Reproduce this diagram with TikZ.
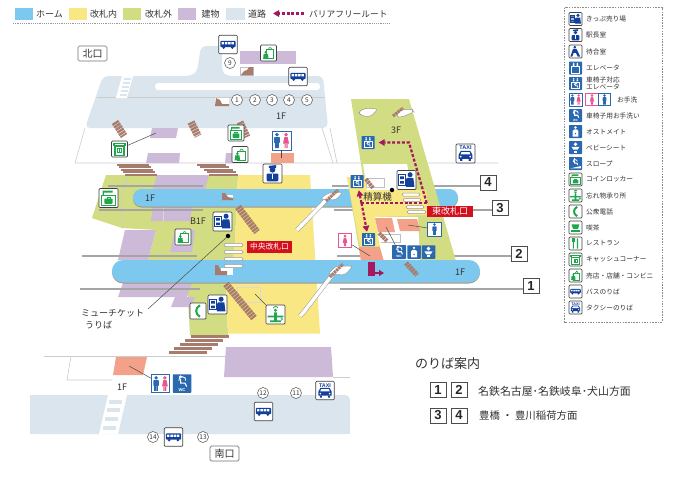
\documentclass[tikz,border=0pt]{standalone}
\usepackage{fontspec}
\setmainfont{Noto Sans CJK JP}
\newfontfamily\latinb{Liberation Sans}[BoldFont={Liberation Sans Bold}]
\usetikzlibrary{arrows.meta}
\definecolor{cHome}{HTML}{7CC8EE}
\definecolor{cIn}{HTML}{F9E784}
\definecolor{cOut}{HTML}{D2DC82}
\definecolor{cBld}{HTML}{CDB9D8}
\definecolor{cRoad}{HTML}{DAE5ED}
\definecolor{cRoute}{HTML}{A3195B}
\definecolor{cSalmon}{HTML}{F4A18A}
\definecolor{cStair}{HTML}{A87C6C}
\definecolor{cNavy}{HTML}{12409A}
\definecolor{cBlue}{HTML}{2A68B0}
\definecolor{cGrn}{HTML}{1FA84A}
\definecolor{cPink}{HTML}{E8558F}
\definecolor{cRed}{HTML}{D4101E}
\definecolor{cTxt}{HTML}{333333}
\definecolor{cRail}{HTML}{A5A5A5}
\definecolor{cThin}{HTML}{C8CDD0}
\tikzset{
 x=1pt,y=-1pt,
 wbox/.style={draw=black!75,fill=white,line width=.7pt,rounded corners=1pt,inner sep=0pt},
 bbox/.style={draw=none,fill=cBlue,rounded corners=.6pt,inner sep=0pt},
 wcbox/.style={draw=cBlue,fill=white,line width=.8pt,inner sep=0pt},
 pkbox/.style={draw=cPink,fill=white,line width=.8pt,inner sep=0pt},
 road/.style={fill=cRoad},
 bld/.style={fill=cBld},
 room/.style={fill=cSalmon},
 thin/.style={draw=cThin,line width=.6pt},
 lead/.style={draw=black!70,line width=.5pt},
 rail/.style={draw=cRail,line width=2pt},
 hatch/.style={draw=cStair,dash pattern=on 2.3pt off .7pt},
 stbar/.style={fill=cStair},
 esc/.style={draw=black!40,line width=.5pt,double=white,double distance=3.5pt},
 bar/.style={draw=black!40,fill=white,line width=.5pt,rounded corners=1.5pt},
 numbox/.style={draw=black!70,fill=white,line width=.7pt,inner sep=0pt,minimum width=16pt,minimum height=15pt,font=\latinb\fontsize{13}{13}\selectfont\bfseries,text=black!85},
 gatebox/.style={fill=cRed,text=white,inner sep=0pt,align=center},
 exitbox/.style={draw=black!55,fill=white,line width=.7pt,rounded corners=1.5pt,inner sep=0pt,minimum width=29pt,minimum height=15pt,font=\fontsize{10}{10}\selectfont,text=cTxt},
 cnum/.style={draw=black!70,fill=white,circle,line width=.5pt,inner sep=0pt,minimum size=11pt,font=\fontsize{6.5}{6.5}\selectfont,text=cTxt},
 lab/.style={text=cTxt,inner sep=0pt,font=\fontsize{9}{9}\selectfont},
 leg/.style={text=cTxt,inner sep=0pt,anchor=west,align=left,font=\fontsize{6.7}{7.6}\selectfont},
 rt/.style={draw=cRoute,line width=2.2pt,dash pattern=on 3pt off 1.8pt},
 rtarrow/.style={rt,-{Triangle[length=6pt,width=6.5pt]}},
 rtsolid/.style={draw=cRoute,line width=1.6pt,-{Triangle[length=5pt,width=6pt]}},
}
\newcommand{\ico}[6]{% name,x,y,size,style,glyph
 \node[#5,minimum size=#4pt] (#1) at (#2,#3) {};
 \pgfmathsetmacro{\icos}{#4/18}
 \begin{scope}[shift={(#2,#3)},scale=\icos,transform shape]#6\end{scope}}
\newcommand{\gBus}{\fill[cNavy,rounded corners=1pt] (-7.5,-3.5) rectangle (7.5,2.5);
 \fill[white] (-6.3,-2.3) rectangle (-3.9,-.2) (-3.1,-2.3) rectangle (-.7,-.2) (.1,-2.3) rectangle (2.5,-.2) (3.3,-2.3) rectangle (5.7,-.2);
 \fill[cNavy] (-4.2,3) circle (1.4) (4.2,3) circle (1.4);}
\newcommand{\gTaxi}{\node[text=cNavy,inner sep=0pt,font=\latinb\fontsize{5.2}{5.2}\selectfont\bfseries] at (0,-5.2) {TAXI};
 \fill[cNavy] (-6.5,5) -- (-6.5,1.2) -- (-4.5,-2.5) -- (4.5,-2.5) -- (6.5,1.2) -- (6.5,5) -- cycle;
 \fill[white] (-3.8,-1.4) -- (3.8,-1.4) -- (4.6,.8) -- (-4.6,.8) -- cycle;
 \fill[white] (-4.5,3) circle (.9) (4.5,3) circle (.9);
 \fill[cNavy] (-5,5) rectangle (-3,7) (3,5) rectangle (5,7);}
\newcommand{\gShop}{\draw[cGrn,line width=.8pt] (-2.5,-3.5) rectangle (6,6.5);
 \draw[cGrn,line width=.7pt] (-.2,-3.5) .. controls (0,-7) and (3.5,-7) .. (3.7,-3.5);
 \fill[cGrn] (-3,-.8) circle (1.6);
 \fill[cGrn] (-6,6.5) -- (-5.5,1) -- (-.5,1) -- (0,6.5) -- cycle;}
\newcommand{\gLocker}{\fill[cGrn] (-5.5,-7) rectangle (-4.3,-2) (-4.3,-7) rectangle (4,-5);
 \draw[cGrn,line width=1pt] (-6.5,-2.5) rectangle (6.5,7);
 \fill[cGrn,rounded corners=.7pt] (-3.8,.5) rectangle (3.8,5.5);
 \draw[cGrn,line width=.7pt] (-1.5,.5) -- (-1.5,-.8) -- (1.5,-.8) -- (1.5,.5);}
\newcommand{\gATM}{\fill[cGrn] (-7.5,-6.5) rectangle (7.5,-3);
 \fill[white] (-5,-5.3) rectangle (5,-4.4);
 \draw[cGrn,line width=1.2pt] (-5,-3) rectangle (5,7);
 \draw[cGrn,line width=.9pt] (-2,-.5) rectangle (2,4);
 \fill[cGrn] (-.6,-.5) rectangle (.6,4);}
\newcommand{\gPhone}{\draw[cGrn,line width=2pt] (2.2,-6.5) .. controls (-3.5,-3) and (-3.5,3) .. (2.2,6.5);}
\newcommand{\gLost}{\fill[cGrn] (-1.3,-2) rectangle (1.3,6) (-7.5,1) rectangle (7.5,2.6) (-5,5.5) rectangle (5,7.3);
 \fill[cGrn] (0,-4) circle (1.6);
 \draw[cGrn,line width=.8pt] (-2,-6) .. controls (-2,-8) and (2.5,-8) .. (2.2,-6);
 \draw[cGrn,line width=.8pt] (5,3) .. controls (7,3.5) and (7,5.5) .. (5.5,5.5);}
\newcommand{\gTicket}{\draw[cNavy,line width=.9pt] (-7.2,-5) rectangle (-1.2,5);
 \fill[cNavy] (-6,-3.5) rectangle (-2.4,-.8) (-6,1) rectangle (-2.4,3.5);
 \fill[cNavy] (3.4,-5) circle (2.4);
 \fill[cNavy] (.5,-2) -- (6.5,-2) -- (7.5,6.5) -- (-.5,6.5) -- (-.5,2.5) -- (-1,0.5) -- cycle;}
\newcommand{\gMaster}{\fill[cNavy] (-3.5,-7.2) -- (3.5,-8) -- (3.5,-5.2) -- (-3.5,-5.2) -- cycle;
 \fill[cNavy] (0,-3.5) circle (2.7);
 \fill[cNavy,rounded corners=1pt] (-5.5,7.5) -- (-5.5,0) -- (5.5,0) -- (5.5,7.5) -- cycle;
 \fill[white] (-.4,.5) -- (.4,.5) -- (.4,5) -- (-.4,5) -- cycle;}
\newcommand{\gWait}{\fill[cNavy] (-1,-6) circle (2);
 \fill[cNavy] (-3.5,-3.5) -- (1.5,-3.5) -- (6.5,7) -- (3,7) -- (.5,2) -- (-2.5,2) -- (-4.5,7) -- (-7,7) -- cycle;}
\newcommand{\gElev}{\fill[white] (-2.5,-6.5) circle (1.1) (2.5,-6.5) circle (1.1);
 \fill[white] (-3.6,-5.2) rectangle (-1.4,-2.6) (1.4,-5.2) rectangle (3.6,-2.6);
 \draw[white,line width=.9pt] (-5,-1.5) rectangle (5,7);}
\newcommand{\gElevW}{\fill[white] (-2.5,-6.5) circle (1.1) (2.5,-6.5) circle (1.1);
 \fill[white] (-3.6,-5.2) rectangle (-1.4,-2.8) (1.4,-5.2) rectangle (3.6,-2.8);
 \draw[white,line width=.9pt] (-5.5,-1.8) rectangle (5.5,7.3);
 \fill[white] (-.4,-.5) circle (.9);
 \draw[white,line width=.8pt] (-.4,.5) -- (-.2,3) -- (2.3,3) -- (3,5.5);
 \draw[white,line width=.7pt] (-1.6,1.8) arc[start angle=160,end angle=370,radius=2];}
\newcommand{\gMan}[1]{\fill[#1] (0,-5.8) circle (1.9);
 \fill[#1,rounded corners=.6pt] (-2.8,-3.4) rectangle (2.8,2.5);
 \fill[#1] (-1.9,2) rectangle (-.2,7.5) (.2,2) rectangle (1.9,7.5);}
\newcommand{\gWoman}[1]{\fill[#1] (0,-5.8) circle (1.9);
 \fill[#1] (-1.6,-3.4) -- (1.6,-3.4) -- (3,3) -- (-3,3) -- cycle;
 \fill[#1] (-1.5,3) rectangle (-.3,7.5) (.3,3) rectangle (1.5,7.5);}
\newcommand{\gWC}{\begin{scope}[shift={(-4.3,0)},scale=.95]\gMan{cBlue}\end{scope}
 \begin{scope}[shift={(4.3,0)},scale=.95]\gWoman{cPink}\end{scope}}
\newcommand{\gWheel}{\fill[white] (-1.5,-6.5) circle (1.5);
 \draw[white,line width=1.1pt] (-1.5,-4.5) -- (-1.2,-.3) -- (3,-.3) -- (4.5,3);
 \draw[white,line width=.9pt] (-3,-2.8) arc[start angle=170,end angle=370,radius=3.4];
 \node[text=white,inner sep=0pt,font=\latinb\fontsize{4}{4}\selectfont\bfseries] at (0,6.3) {WC};}
\newcommand{\gOsto}{\fill[white] (0,-5.5) circle (1.8);
 \fill[white] (-4,7) -- (-4,-1) -- (-1.5,-3) -- (1.5,-3) -- (4,-1) -- (4,7) -- cycle;
 \fill[cBlue] (0,3) circle (1);}
\newcommand{\gBaby}{\fill[white] (0,-4.5) circle (2.6);
 \fill[white] (-5.5,-1) -- (5.5,-1) -- (3,3) -- (-3,3) -- cycle;
 \fill[white] (-2.5,4.5) rectangle (2.5,7);}
\newcommand{\gSlope}{\fill[white] (-1.5,-6) circle (1.5);
 \draw[white,line width=1pt] (-1.5,-4) -- (-1.3,-.5) -- (2,-.5) -- (3,2);
 \draw[white,line width=.8pt] (-3,-2) arc[start angle=170,end angle=350,radius=2.8];
 \fill[white] (-7.5,6.8) -- (7.5,6.8) -- (7.5,3.5) -- cycle;}
\newcommand{\gCafe}{\fill[cGrn] (-5.5,-4.5) -- (5.5,-4.5) -- (3.5,2) -- (-3.5,2) -- cycle;
 \fill[cGrn] (-6.5,4) rectangle (6.5,5.8);}
\newcommand{\gRest}{\fill[cGrn] (-3.5,-7) rectangle (-2.2,7) (1.8,-7) rectangle (3.6,7);
 \fill[cGrn] (-5,-7) rectangle (-.7,-1.5);}
\begin{document}
\begin{tikzpicture}
\useasboundingbox (0,0) rectangle (675,488);
\fill[white] (0,0) rectangle (675,488);

% ---------- legend strip
\foreach \xa/\xb/\cc in {15/33/cHome,69/87/cIn,123/141/cOut,178/196/cBld,226/245/cRoad}
  \fill[\cc] (\xa,8) rectangle (\xb,19.5);
\node[lab,anchor=west] (lgHome) at (36,14) {ホーム};
\node[lab,anchor=west] (lgIn) at (90,14) {改札内};
\node[lab,anchor=west] (lgOut) at (145,14) {改札外};
\node[lab,anchor=west] (lgBld) at (201.5,14) {建物};
\node[lab,anchor=west] (lgRoad) at (248,14) {道路};
\coordinate (lgR1) at (304,13.5);
\coordinate (lgR2) at (273,13.5);
\draw[rtarrow] (lgR1) -- (lgR2);
\node[lab,anchor=west,font=\fontsize{8.7}{8.7}\selectfont] (lgRoute) at (309,14) {バリアフリールート};
\draw[black!40,line width=.5pt,dash pattern=on 1.2pt off 1pt] (13,23.5) -- (390,23.5);

% ---------- north road
\fill[road,rounded corners=5pt] (201,46) -- (197,72) -- (190,76) -- (103,76) -- (85,128) -- (328,128) -- (323,76) -- (227,76) -- (222,72) -- (222,46) -- cycle;
\fill[road] (205,46) rectangle (222,52);
\fill[white,rounded corners=3pt] (155,83) rectangle (320,90);
\draw[black!20,line width=.5pt] (97,97) -- (325,97);
\fill[white] (122,76) -- (133,76) -- (127,98) -- (116,98) -- cycle;
\foreach \yy/\dx in {78/0,82/1,86/2,90/3,94/4}
  \fill[cRoad] (123.5-\dx,\yy) rectangle (131-\dx,\yy+2);
\fill[bld] (240,51) rectangle (296,63.5);

% ---------- concourse outline (north)
\draw[thin] (85,128) -- (75,163) -- (498,163);
\draw[thin] (322,128) -- (333,163);
\draw[thin] (330,128) -- (337,163);
\fill[bld] (152,128) -- (178,128) -- (176,138) -- (150,138) -- cycle;
\fill[bld] (148,153) -- (180,153) -- (179,163) -- (146,163) -- cycle;
\fill[bld] (226,153) -- (241,153) -- (241,163) -- (225,163) -- cycle;
\fill[room] (271,153) rectangle (294,163);

% ---------- B1F
\fill[cOut] (106,175) -- (238,175) -- (235,242) -- (233,260) -- (226,283) -- (228,335) -- (190,335) -- (187,283) -- (148,260) -- (156,230) -- (122,228) -- (92,218) -- cycle;
\fill[cIn] (238,175) -- (310,175) -- (320,333.5) -- (228,333.5) -- (226,283) -- (233,260) -- (235,242) -- cycle;
\fill[bld] (157,175) -- (209,175) -- (205,189) -- (153,189) -- cycle;
\fill[bld] (153,207) -- (192,207) -- (190,221) -- (151,221) -- cycle;
\fill[bld] (125,230) -- (156,230) -- (148,260) -- (118,260) -- cycle;
\fill[bld] (123,283) -- (192,283) -- (187,297) -- (118,297) -- cycle;
\fill[bld] (175,297) -- (195,297) -- (190,307) -- (171,307) -- cycle;
\fill[bld] (175,230) -- (195,230) -- (192,252) -- (170,252) -- cycle;
\draw[thin,draw=black!20] (128,175) -- (121,201) -- (123,228);
\draw[thin,draw=black!15] (163,207) -- (163,221);
\draw[thin,draw=black!15] (237,287) rectangle (260,302);

% ---------- rails
\draw[rail] (108,186) -- (203,186);
\draw[rail] (332,186) -- (480,186);
\draw[rail] (99,210) -- (203,210);
\draw[rail] (334,210) -- (492,210);
\draw[rail] (82,256) -- (197,256);
\draw[rail] (337,256) -- (511,256);
\draw[rail] (80,289) -- (200,289);
\draw[rail] (340,289) -- (523,289);

% ---------- platform 1F upper
\fill[brown!60!black!60,rounded corners=8.5pt] (133,190) rectangle (458,207.5);
\fill[cHome,rounded corners=8.5pt] (133,189) rectangle (458,206.5);

% ---------- east block
\fill[cOut] (351,99) -- (409,99) -- (456,261) -- (361,261) -- (347,177) -- (363,177) -- cycle;
\fill[white] (363,164) -- (407,164) -- (412,190) -- (367,190) -- cycle;
\draw[black!25,line width=.5pt,fill=white] (366,178) rectangle (384,187);
\fill[cIn] (347,177) -- (365,177) -- (367,190) -- (426,190) -- (429,215) -- (375,217) -- (380,246) -- (360,246) -- cycle;
\fill[room] (359,247) -- (380,247) -- (384,261) -- (361,261) -- cycle;
\fill[white] (375,217) -- (418,217) -- (420,261) -- (384,261) -- (380,247) -- cycle;
\fill[room] (375,218) -- (392,218) -- (395,232) -- (378,232) -- cycle;
\fill[room] (397,219) -- (417,219) -- (420,231) -- (400,231) -- cycle;
\draw[black!25,line width=.5pt] (379,234) -- (400,234) -- (400,242) -- (381,242);
\draw[hatch,line width=4pt] (379,233) -- (387,241);
\draw[hatch,line width=4pt] (366,179) -- (373,188);
% 3F escalators
\draw[black!40,fill=white,line width=.5pt,rounded corners=3pt] (358,112) -- (366,108) -- (378,109) -- (371,116.5) -- (362,116) -- cycle;
\draw[black!40,fill=white,line width=.5pt,rounded corners=3pt] (396,117) -- (400,110) -- (412,109) -- (414,112) -- (402,117) -- cycle;
\draw[hatch,line width=3pt] (393,116) -- (403,108);

% ---------- platform 1F lower
\fill[brown!60!black!60,rounded corners=11pt] (112,261) rectangle (480,283.5);
\fill[cHome,rounded corners=11pt] (112,260) rectangle (480,282.5);

% ---------- stairs
\foreach \x/\y in {128/163.5,130/166,132/168.5,134/171,136/173.5}
  \fill[stbar] (\x-11,\y) rectangle (\x+21,\y+2);
\foreach \x/\y in {197/163.5,200/166,204/168.5,207/171,209/173.5}
  \fill[stbar] (\x,\y) rectangle (\x+29,\y+2);
\foreach \x/\y in {190.5/335,185/339,179.5/343,174/347,168.5/351}
  \fill[stbar] (\x,\y) rectangle (\x+38,\y+3.3);
\draw[hatch,line width=7.5pt] (115,122) -- (124,136);
\draw[hatch,line width=7.5pt] (191,122) -- (198,136);
\draw[hatch,line width=7pt] (240,122) -- (247,137);
\draw[hatch,line width=7pt] (238,207) -- (257,232);
\draw[hatch,line width=7pt] (226,284) -- (254,318);
\draw[hatch,line width=5pt] (406,263) -- (417,275);
\draw[black!25,fill=white,line width=.4pt] (240,67) rectangle (253,75);
\fill[stbar] (241,75) -- (253,75) -- (253,67) -- (249,67) -- (247,70) -- (244,71) -- cycle;
\fill[white] (215,98) rectangle (229,106);
\fill[stbar] (215,106) -- (229,106) -- (229,104) -- (222,104) -- (220,100) -- (216,98) -- cycle;
\fill[white] (226,195) rectangle (233,200);
\fill[stbar] (222,193) -- (225,193) -- (228,197) -- (233,198) -- (233,200) -- (222,200) -- cycle;
\fill[white] (221,268) rectangle (233,275);
\fill[stbar] (215,265) -- (218,265) -- (221,271) -- (227,271) -- (227,275) -- (215,275) -- cycle;

% ---------- escalators
\draw[esc] (297,230) -- (300,227) -- (329,197);
\draw[esc] (300,316) -- (303,313) -- (333,274);
\draw[black!40,fill=white,line width=.5pt,rounded corners=3pt] (320,199) -- (328,193) -- (343,192) -- (336,200) -- cycle;
\draw[black!40,fill=white,line width=.5pt,rounded corners=3pt] (328,274) -- (336,266) -- (353,266) -- (345,275) -- cycle;
\draw[hatch,line width=3pt] (326,201) -- (338,190);
\draw[hatch,line width=3pt] (330,277) -- (343,264);

% ---------- gates
\foreach \yy in {245,252,259,266}
  \draw[bar] (224,\yy-1.7) rectangle (243,\yy+1.7);
\draw[bar] (402,193) rectangle (420,196);
\draw[bar] (403,198.5) rectangle (421,201.5);
\draw[bar] (406,205.5) rectangle (424,208.5);
\draw[bar] (407,210.5) rectangle (426,213.5);

% ---------- south
\draw[thin] (44,356.5) -- (226,356.5);
\draw[thin] (71,356.5) -- (67,380) -- (112,380);
\fill[bld] (226,347) -- (331,347) -- (333,377) -- (224,377) -- cycle;
\draw[thin] (333,377) -- (350,377);
\fill[room] (116,357) -- (147,357) -- (143,375) -- (113,375) -- cycle;
\fill[road,rounded corners=5pt] (30,395) -- (350,395) -- (350,434) -- (30,434) -- cycle;
\fill[road] (30,395) rectangle (60,434);
\fill[road] (30,425) rectangle (350,434);
\fill[white] (108,395) -- (127,395) -- (118,434) -- (99,434) -- cycle;
\foreach \yy/\dx in {400/0,408/2,417/4,426/6}
  \fill[cRoad] (109-\dx,\yy) rectangle (122-\dx,\yy+3.5);

% ---------- map icons
\ico{icBus1}{228}{44.5}{18.5}{wbox}{\gBus}
\ico{icShop1}{268.5}{53}{16}{wbox}{\gShop}
\ico{icBus2}{298}{76.5}{18.5}{wbox}{\gBus}
\ico{icLock1}{236}{133}{16}{wbox}{\gLocker}
\ico{icShop2}{240}{154.5}{16}{wbox}{\gShop}
\ico{icATM}{119.5}{149}{16}{wbox}{\gATM}
\ico{icWC1}{281.5}{140.5}{19}{wcbox}{\gWC}
\ico{icMaster}{272.5}{173.5}{19}{wbox}{\gMaster}
\ico{icLock2}{108.5}{198}{19}{wbox}{\gLocker}
\ico{icTicket1}{222.5}{221.5}{19}{wbox}{\gTicket}
\ico{icShop3}{183}{237}{16}{wbox}{\gShop}
\ico{icTicket2}{217.5}{304.5}{19}{wbox}{\gTicket}
\ico{icPhone}{198}{311}{16}{wbox}{\gPhone}
\ico{icLost}{275.5}{314.5}{19}{wbox}{\gLost}
\ico{icElev3F}{368}{142.5}{13}{bbox}{\gElevW}
\ico{icElevUp}{357}{181.5}{13}{bbox}{\gElevW}
\ico{icElevDn}{368.5}{239.5}{13}{bbox}{\gElevW}
\ico{icTicket3}{406.5}{180}{19}{wbox}{\gTicket}
\ico{icMan}{434.5}{229}{14}{wcbox}{\gMan{cBlue}}
\ico{icWheel}{399}{252}{14}{bbox}{\gWheel}
\ico{icOsto}{414}{252}{13.5}{bbox}{\gOsto}
\ico{icBaby}{428.5}{252}{13.5}{bbox}{\gBaby}
\ico{icWoman}{345}{240.5}{13.5}{pkbox}{\gWoman{cPink}}
\ico{icTaxi1}{465.5}{153.5}{19}{wbox}{\gTaxi}
\ico{icWC2}{160.5}{383.5}{18.5}{wcbox}{\gWC}
\ico{icWheel2}{182}{383.5}{18.5}{bbox}{\gWheel}
\ico{icBus3}{263.5}{411.5}{18.5}{wbox}{\gBus}
\ico{icBus4}{173.5}{437}{18.5}{wbox}{\gBus}
\ico{icTaxi2}{325}{390.5}{18.5}{wbox}{\gTaxi}

% ---------- leaders
\coordinate (rmATM) at (156,133);
\coordinate (rmWC1) at (281.5,158);
\coordinate (rmLost) at (255,294);
\coordinate (rmWoman) at (370,256);
\coordinate (rmWheel) at (386,227);
\coordinate (rmMan) at (408,225);
\coordinate (rmWC2) at (129,366);
\node[fill=black,circle,inner sep=0pt,minimum size=4.5pt] (dotW) at (228,236) {};
\coordinate (lblW) at (148,309);
\node[fill=black,circle,inner sep=0pt,minimum size=4.5pt] (dotE) at (392,190) {};
\draw[lead] (icATM) -- (rmATM);
\draw[lead] (icWC1) -- (rmWC1);
\draw[lead] (icLost) -- (rmLost);
\draw[lead] (icWoman) -- (rmWoman);
\draw[lead] (icWheel) -- (rmWheel);
\draw[lead] (icMan) -- (rmMan);
\draw[lead] (icWC2) -- (rmWC2);
\draw[lead] (dotW) -- (lblW);

% ---------- barrier free route
\coordinate (rtA) at (426.7,203);
\coordinate (rtB) at (409,142.5);
\coordinate (rtL) at (361.5,203);
\draw[rtarrow,shorten >=4pt] (rtA) -- (rtB) -- (icElev3F);
\draw[rt] (rtA) -- (rtL);
\draw[rtarrow,shorten >=2pt] (rtL) -- (icElevUp);
\draw[rtarrow,shorten >=1pt] (rtL) -- (icElevDn);
\fill[cRoute] (368,262) rectangle (375,276);
\coordinate (rtS1) at (375,273);
\coordinate (rtS2) at (384,273);
\draw[rtsolid] (rtS1) -- (rtS2);

% ---------- gate labels
\node[gatebox,minimum width=45pt,minimum height=12pt,font=\fontsize{7.8}{7.8}\selectfont] (gateC) at (269.5,247) {中央改札口};
\node[gatebox,minimum width=46pt,minimum height=11pt,font=\fontsize{9}{9}\selectfont] (gateE) at (450,211.5) {東改札口};

% ---------- texts
\node[lab] (t1F1) at (150,198) {1F};
\node[lab] (t1F2) at (281,116) {1F};
\node[lab] (t1F3) at (460,272) {1F};
\node[lab] (t1F4) at (122,387) {1F};
\node[lab] (t3F) at (396,130) {3F};
\node[lab] (tB1F) at (198,221) {B1F};
\node[lab,font=\fontsize{9.5}{9.5}\selectfont] (tSeisan) at (377.5,197) {精算機};
\node[lab,anchor=west] (tMu1) at (81,313) {ミューチケット};
\node[lab,anchor=west] (tMu2) at (85,325) {うりば};
\node[exitbox] (exN) at (92.5,53.5) {北口};
\node[exitbox] (exS) at (224.5,453.5) {南口};
\node[cnum] (c9) at (230,63) {9};
\node[cnum] (c1) at (237,100) {1};
\node[cnum] (c2) at (255,100) {2};
\node[cnum] (c3) at (272,100) {3};
\node[cnum] (c4) at (289,100) {4};
\node[cnum] (c5) at (307,100) {5};
\node[cnum] (c12) at (263,393) {12};
\node[cnum] (c11) at (296,393) {11};
\node[cnum] (c14) at (153,437) {14};
\node[cnum] (c13) at (203,437) {13};
\node[numbox] (n4) at (488,182.5) {4};
\node[numbox] (n3) at (500,208) {3};
\node[numbox] (n2) at (519,253.5) {2};
\node[numbox] (n1) at (531,286) {1};

% ---------- guide
\node[text=cTxt,inner sep=0pt,anchor=west,font=\fontsize{13}{13}\selectfont] (tGuide) at (415,364) {のりば案内};
\node[numbox] (g1) at (438,390) {1};
\node[numbox] (g2) at (459,390) {2};
\node[numbox] (g3) at (438,415.5) {3};
\node[numbox] (g4) at (459,415.5) {4};
\node[text=cTxt,inner sep=0pt,anchor=west,font=\fontsize{10.9}{10.9}\selectfont] (tDest1) at (478,391) {名鉄名古屋･名鉄岐阜･犬山方面};
\node[text=cTxt,inner sep=0pt,anchor=west,font=\fontsize{10.4}{10.4}\selectfont] (tDest2) at (479,416) {豊橋 ・ 豊川稲荷方面};

% ---------- right legend
\draw[black!45,line width=.6pt,dash pattern=on 1.5pt off 1.2pt] (564.5,7.5) rectangle (662,322);
\ico{kTicket}{575.5}{19}{13}{wbox}{\gTicket}
\node[leg] (kt1) at (586,19) {きっぷ売り場};
\ico{kMaster}{575.5}{35}{13}{wbox}{\gMaster}
\node[leg] (kt2) at (586,35) {駅長室};
\ico{kWait}{575.5}{51.5}{13}{wbox}{\gWait}
\node[leg] (kt3) at (586,51.5) {待合室};
\ico{kElev}{575.5}{68}{13}{bbox}{\gElev}
\node[leg] (kt4) at (586,68) {エレベータ};
\ico{kElevW}{575.5}{83.5}{13}{bbox}{\gElevW}
\node[leg] (kt5) at (586,83.5) {車椅子対応\\エレベータ};
\ico{kWC}{575.5}{99.5}{13}{wcbox}{\gWC}
\ico{kWoman}{592}{99.5}{12.5}{pkbox}{\gWoman{cPink}}
\ico{kMan}{604.5}{99.5}{12.5}{wcbox}{\gMan{cBlue}}
\node[leg] (kt6) at (617,99.5) {お手洗};
\ico{kWheel}{575.5}{115.5}{13}{bbox}{\gWheel}
\node[leg] (kt7) at (586,115.5) {車椅子用お手洗い};
\ico{kOsto}{575.5}{131.5}{13}{bbox}{\gOsto}
\node[leg] (kt8) at (586,131.5) {オストメイト};
\ico{kBaby}{575.5}{147.5}{13}{bbox}{\gBaby}
\node[leg] (kt9) at (586,147.5) {ベビーシート};
\ico{kSlope}{575.5}{163.5}{13}{bbox}{\gSlope}
\node[leg] (kt10) at (586,163.5) {スロープ};
\ico{kLock}{575.5}{179.5}{13}{wbox}{\gLocker}
\node[leg] (kt11) at (586,179.5) {コインロッカー};
\ico{kLost}{575.5}{195.5}{13}{wbox}{\gLost}
\node[leg] (kt12) at (586,195.5) {忘れ物承り所};
\ico{kPhone}{575.5}{211.5}{13}{wbox}{\gPhone}
\node[leg] (kt13) at (586,211.5) {公衆電話};
\ico{kCafe}{575.5}{227.5}{13}{wbox}{\gCafe}
\node[leg] (kt14) at (586,227.5) {喫茶};
\ico{kRest}{575.5}{243.5}{13}{wbox}{\gRest}
\node[leg] (kt15) at (586,243.5) {レストラン};
\ico{kATM}{575.5}{259.5}{13}{wbox}{\gATM}
\node[leg] (kt16) at (586,259.5) {キャッシュコーナー};
\ico{kShop}{575.5}{275.5}{13}{wbox}{\gShop}
\node[leg] (kt17) at (586,275.5) {売店・店舗・コンビニ};
\ico{kBus}{575.5}{291.5}{13}{wbox}{\gBus}
\node[leg] (kt18) at (586,291.5) {バスのりば};
\ico{kTaxi}{575.5}{307.5}{13}{wbox}{\gTaxi}
\node[leg] (kt19) at (586,307.5) {タクシーのりば};
\end{tikzpicture}
\end{document}
